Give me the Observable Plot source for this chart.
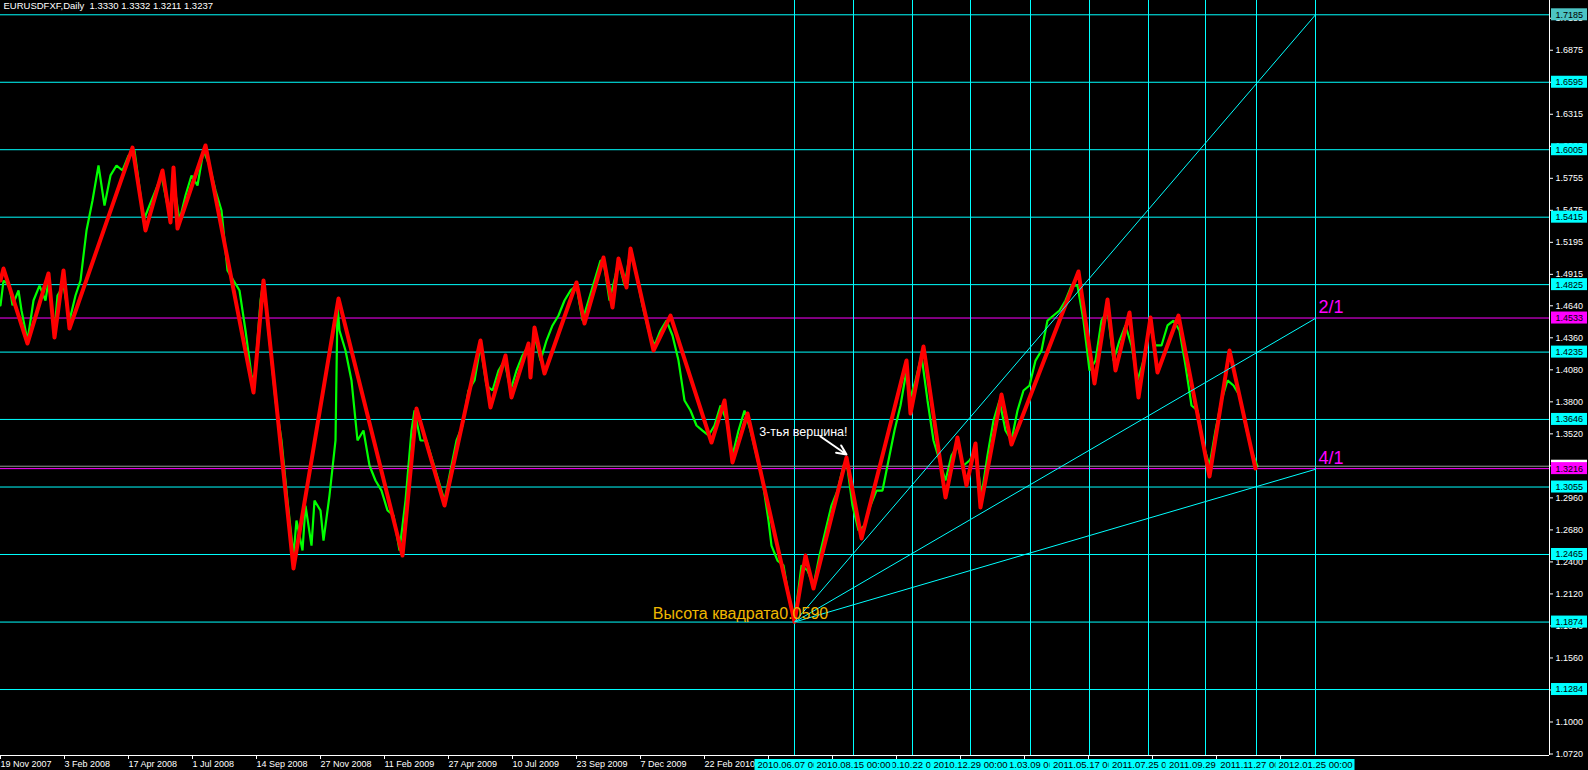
<!DOCTYPE html>
<html>
<head>
<meta charset="utf-8">
<script src="https://cdn.jsdelivr.net/npm/d3@7"></script>
<script src="https://cdn.jsdelivr.net/npm/@observablehq/plot@0.6"></script>
<style>
  html, body { margin: 0; padding: 0; background: #000; overflow: hidden; }
  #chart svg { display: block; }
</style>
</head>
<body>
<div id="chart"></div>
<script>
// chart header as shown by the terminal
const title = "EURUSDFXF,Daily  1.3330 1.3332 1.3211 1.3237";

// x is the bar number (one bar per pixel in the terminal), 0 = 19 Nov 2007
const xTickBars = [0, 64, 128, 192, 256, 320, 384, 448, 512, 576, 640, 704, 768, 832, 896, 960, 1024, 1088, 1152, 1216, 1280];
const xTickLabels = ["19 Nov 2007", "3 Feb 2008", "17 Apr 2008", "1 Jul 2008", "14 Sep 2008", "27 Nov 2008",
  "11 Feb 2009", "27 Apr 2009", "10 Jul 2009", "23 Sep 2009", "7 Dec 2009", "22 Feb 2010"];
const yTicks = [1.0720, 1.1000, 1.1280, 1.1560, 1.1840, 1.2120, 1.2400, 1.2680, 1.2960, 1.3240, 1.3520,
  1.3800, 1.4080, 1.4360, 1.4640, 1.4915, 1.5195, 1.5475, 1.5755, 1.6035, 1.6315, 1.6595, 1.6875, 1.7155];

// gann square levels (step 0.0590)
const cyanLevels = [1.7185, 1.6595, 1.6005, 1.5415, 1.4825, 1.4235, 1.3646, 1.3055, 1.2465, 1.1874, 1.1284];
const magentaLevels = [1.4533, 1.3216];
const bidPrice = 1.3237;

// vertical lines of the square, bar + time label
const gannBars = [794, 853, 912, 970, 1030, 1089, 1148, 1205, 1256, 1315];
const gannLabels = ["2010.06.07 00:00", "2010.08.15 00:00", "2010.10.22 00:00", "2010.12.29 00:00", "2011.03.09 00:00",
  "2011.05.17 00:00", "2011.07.25 00:00", "2011.09.29 00:00", "2011.11.27 00:00", "2012.01.25 00:00"];
const gannDrawOrder = [0, 2, 4, 1, 3, 5, 6, 7, 8, 9];

// fan from the June 2010 low
const fanOrigin = {bar: 794, price: 1.1874};
const fanEnds = [
  {bar: 1315, price: 1.7185, label: ""},
  {bar: 1315, price: 1.4530, label: "2/1"},
  {bar: 1315, price: 1.3210, label: "4/1"}
];

// zigzag (red)
const zigzag = [
  [0, 1.4861], [3, 1.4966], [27, 1.4310], [48, 1.4923], [54, 1.4363], [63, 1.4949], [69, 1.4441],
  [132, 1.6024], [145, 1.5299], [162, 1.5823], [170, 1.5369], [173, 1.5850], [177, 1.5316], [205, 1.6042],
  [253, 1.3882], [263, 1.4861], [293, 1.2343], [338, 1.4704], [402, 1.2456], [416, 1.3742], [444, 1.2893],
  [480, 1.4337], [490, 1.3751], [505, 1.4205], [511, 1.3838], [528, 1.4310], [530, 1.4013], [534, 1.4450],
  [544, 1.4048], [576, 1.4844], [584, 1.4485], [603, 1.5062], [612, 1.4625], [618, 1.5054], [626, 1.4800],
  [630, 1.5141], [653, 1.4249], [670, 1.4555], [711, 1.3444], [724, 1.3812], [732, 1.3270], [747, 1.3698],
  [794, 1.1876], [805, 1.2456], [813, 1.2168], [846, 1.3313], [861, 1.2605], [906, 1.4162], [910, 1.3698],
  [923, 1.4284], [945, 1.2963], [957, 1.3488], [966, 1.3068], [975, 1.3436], [980, 1.2876], [1001, 1.3864],
  [1011, 1.3427], [1078, 1.4940], [1094, 1.3960], [1107, 1.4695], [1115, 1.4074], [1129, 1.4581],
  [1138, 1.3838], [1150, 1.4538], [1157, 1.4057], [1178, 1.4555], [1209, 1.3147], [1229, 1.4249], [1255, 1.3217]
];

// daily price path (green)
const closes = [
  [0, 1.4643], [3, 1.4861], [9, 1.4817], [12, 1.4643], [18, 1.4774], [21, 1.4599], [27, 1.4336], [33, 1.4686],
  [39, 1.4817], [45, 1.4686], [48, 1.4861], [54, 1.4424], [57, 1.4730], [63, 1.4817], [69, 1.4511], [75, 1.4730],
  [80, 1.4861], [86, 1.5298], [92, 1.5561], [98, 1.5867], [104, 1.5517], [110, 1.5780], [116, 1.5867],
  [122, 1.5823], [128, 1.5954], [134, 1.5998], [140, 1.5605], [143, 1.5386], [149, 1.5517], [155, 1.5648],
  [161, 1.5780], [167, 1.5517], [170, 1.5430], [173, 1.5736], [179, 1.5386], [185, 1.5605], [191, 1.5780],
  [197, 1.5692], [203, 1.5998], [209, 1.5867], [215, 1.5648], [221, 1.5473], [227, 1.4949], [233, 1.4861],
  [239, 1.4774], [245, 1.4424], [251, 1.4030], [254, 1.3987], [260, 1.4686], [263, 1.4861], [269, 1.4336],
  [275, 1.3812], [281, 1.3462], [287, 1.2937], [293, 1.2456], [296, 1.2762], [302, 1.2500], [305, 1.2893],
  [311, 1.2543], [314, 1.2937], [320, 1.2850], [323, 1.2587], [329, 1.2981], [335, 1.3462], [337, 1.4643],
  [339, 1.4424], [345, 1.4249], [351, 1.3987], [357, 1.3462], [363, 1.3549], [369, 1.3243], [375, 1.3112],
  [381, 1.3024], [387, 1.2850], [393, 1.2806], [399, 1.2500], [405, 1.2937], [411, 1.3549], [414, 1.3724],
  [420, 1.3462], [426, 1.3462], [432, 1.3287], [438, 1.3112], [444, 1.2937], [450, 1.3199], [456, 1.3462],
  [462, 1.3593], [468, 1.3899], [474, 1.3987], [480, 1.4293], [486, 1.3943], [492, 1.3899], [498, 1.4074],
  [504, 1.4161], [510, 1.3899], [516, 1.4074], [522, 1.4205], [528, 1.4293], [531, 1.4118], [534, 1.4380],
  [540, 1.4161], [546, 1.4336], [552, 1.4468], [558, 1.4555], [564, 1.4686], [570, 1.4774], [576, 1.4817],
  [582, 1.4511], [588, 1.4686], [594, 1.4861], [600, 1.5036], [603, 1.5036], [609, 1.4686], [615, 1.4905],
  [618, 1.5036], [624, 1.4817], [630, 1.5123], [636, 1.4905], [642, 1.4643], [648, 1.4424], [654, 1.4293],
  [660, 1.4424], [666, 1.4511], [672, 1.4380], [678, 1.4161], [684, 1.3812], [690, 1.3724], [696, 1.3593],
  [702, 1.3549], [708, 1.3506], [714, 1.3593], [720, 1.3768], [726, 1.3637], [732, 1.3331], [738, 1.3549],
  [744, 1.3724], [750, 1.3549], [756, 1.3331], [762, 1.3112], [768, 1.2762], [771, 1.2543], [777, 1.2412],
  [783, 1.2369], [789, 1.2062], [794, 1.1887], [801, 1.2369], [807, 1.2325], [813, 1.2194], [819, 1.2456],
  [825, 1.2675], [831, 1.2893], [837, 1.3024], [843, 1.3243], [846, 1.3287], [852, 1.2893], [858, 1.2675],
  [864, 1.2718], [870, 1.2893], [876, 1.3024], [882, 1.3024], [888, 1.3287], [894, 1.3549], [900, 1.3768],
  [906, 1.4074], [909, 1.3812], [915, 1.3987], [921, 1.4205], [927, 1.3812], [933, 1.3462], [939, 1.3287],
  [945, 1.3112], [951, 1.3331], [957, 1.3418], [963, 1.3243], [969, 1.3287], [975, 1.3374], [981, 1.2981],
  [987, 1.3331], [993, 1.3637], [999, 1.3812], [1005, 1.3549], [1011, 1.3462], [1017, 1.3724], [1023, 1.3899],
  [1029, 1.3943], [1035, 1.4161], [1041, 1.4249], [1047, 1.4511], [1053, 1.4555], [1059, 1.4599],
  [1065, 1.4686], [1071, 1.4817], [1077, 1.4817], [1083, 1.4511], [1089, 1.4074], [1095, 1.4161],
  [1101, 1.4511], [1107, 1.4599], [1113, 1.4161], [1119, 1.4336], [1125, 1.4468], [1131, 1.4293],
  [1137, 1.3987], [1143, 1.4161], [1149, 1.4468], [1155, 1.4293], [1161, 1.4293], [1167, 1.4468],
  [1173, 1.4511], [1179, 1.4424], [1185, 1.4118], [1191, 1.3768], [1197, 1.3724], [1203, 1.3418],
  [1209, 1.3243], [1215, 1.3549], [1221, 1.3812], [1227, 1.3987], [1233, 1.3943], [1239, 1.3855],
  [1245, 1.3593], [1251, 1.3374], [1257, 1.3235]
];

// annotations
const squareNote = {bar: 794, price: 1.1874, text: "Высота квадрата0.0590"};
const peakNote = {bar: 846, price: 1.3313, text: "3-тья вершина!"};
const peakArrow = {bar1: 820, price1: 1.3497, bar2: 846, price2: 1.3339};

const CYAN = "#00ffff";
const MAGENTA = "#ff00ff";
const fmt = d => d.toFixed(4);

// level boxes on the price scale: rect + text for each group, drawn in order
function levelBoxes(values, fill) {
  return [
    Plot.rect(values, {y1: d => d, y2: d => d, fill, insetLeft: 1551, insetRight: -38, insetTop: -6, insetBottom: -6}),
    Plot.text(values, {y: d => d, text: fmt, frameAnchor: "right", textAnchor: "start", dx: 6, fill: "#000", fontSize: 9})
  ];
}

// time labels of the vertical lines, later ones cover earlier ones
const gannMarks = gannDrawOrder.flatMap(i => {
  const d = [{bar: gannBars[i], label: gannLabels[i]}];
  return [
    Plot.rect(d, {x1: "bar", x2: "bar", fill: CYAN, insetLeft: -39.5, insetRight: -39.5, insetTop: 759, insetBottom: -15}),
    Plot.text(d, {x: "bar", text: "label", frameAnchor: "bottom", dy: 9.5, lineAnchor: "middle", fill: "#000", fontSize: 9.5})
  ];
});

const chart = Plot.plot({
  width: 1588,
  height: 770,
  marginLeft: 0,
  marginRight: 39,
  marginTop: 0,
  marginBottom: 15,
  style: {
    background: "#000",
    color: "#fff",
    fontFamily: "'Liberation Sans', Arial, sans-serif",
    fontSize: "9px",
    overflow: "visible"
  },
  x: {type: "linear", domain: [0, 1549], axis: null},
  y: {domain: [1.0707, 1.7310], axis: null},
  marks: [
    Plot.ruleY(cyanLevels, {stroke: CYAN, strokeWidth: 1}),
    Plot.ruleY(magentaLevels, {stroke: MAGENTA, strokeWidth: 1}),
    Plot.ruleX(gannBars, {stroke: CYAN, strokeWidth: 1}),
    Plot.line(closes, {x: d => d[0], y: d => d[1], stroke: "#00ff00", strokeWidth: 2.2, strokeLinejoin: "miter"}),
    Plot.ruleY([bidPrice], {stroke: "#9a9a9a", strokeWidth: 1}),
    Plot.line(zigzag, {x: d => d[0], y: d => d[1], stroke: "#ff0000", strokeWidth: 4, strokeLinejoin: "round"}),
    Plot.link(fanEnds, {x1: () => fanOrigin.bar, y1: () => fanOrigin.price, x2: "bar", y2: "price", stroke: CYAN, strokeWidth: 1}),
    Plot.text(fanEnds.filter(d => d.label), {x: "bar", y: "price", text: "label", fill: MAGENTA, fontSize: 18,
      textAnchor: "start", lineAnchor: "bottom", dx: 3, dy: -5}),
    Plot.text([squareNote], {x: "bar", y: "price", text: "text", fill: "#f0b800", fontSize: 16,
      textAnchor: "middle", lineAnchor: "bottom", dx: -54, dy: -3}),
    Plot.text([peakNote], {x: "bar", y: "price", text: "text", fill: "#fff", fontSize: 12.5,
      textAnchor: "end", lineAnchor: "bottom", dx: 1, dy: -22}),
    Plot.arrow([peakArrow], {x1: "bar1", y1: "price1", x2: "bar2", y2: "price2", stroke: "#fff", strokeWidth: 2,
      headLength: 8, headAngle: 50}),
    // axes
    Plot.ruleY([1.0707], {stroke: "#fff", strokeWidth: 1}),
    Plot.ruleX([1549], {stroke: "#fff", strokeWidth: 1}),
    Plot.axisY(yTicks, {anchor: "right", tickSize: 3, tickPadding: 3, tickFormat: fmt, fontSize: 9, color: "#fff"}),
    Plot.axisX(xTickBars, {anchor: "bottom", tickSize: 4, tickPadding: 1, textAnchor: "start", fontSize: 9, color: "#fff",
      tickFormat: (d, i) => xTickLabels[i] || ""}),
    ...levelBoxes(cyanLevels.slice(0, 1), "#4cc4c4"),
    ...levelBoxes(cyanLevels.slice(1), CYAN),
    ...levelBoxes([bidPrice], "#ffffff"),
    ...levelBoxes(magentaLevels, MAGENTA),
    ...gannMarks,
    Plot.text([title], {frameAnchor: "top-left", dx: 3, dy: 2, textAnchor: "start", lineAnchor: "top", fill: "#fff", fontSize: 9.5})
  ]
});

document.getElementById("chart").appendChild(chart);
</script>
</body>
</html>
